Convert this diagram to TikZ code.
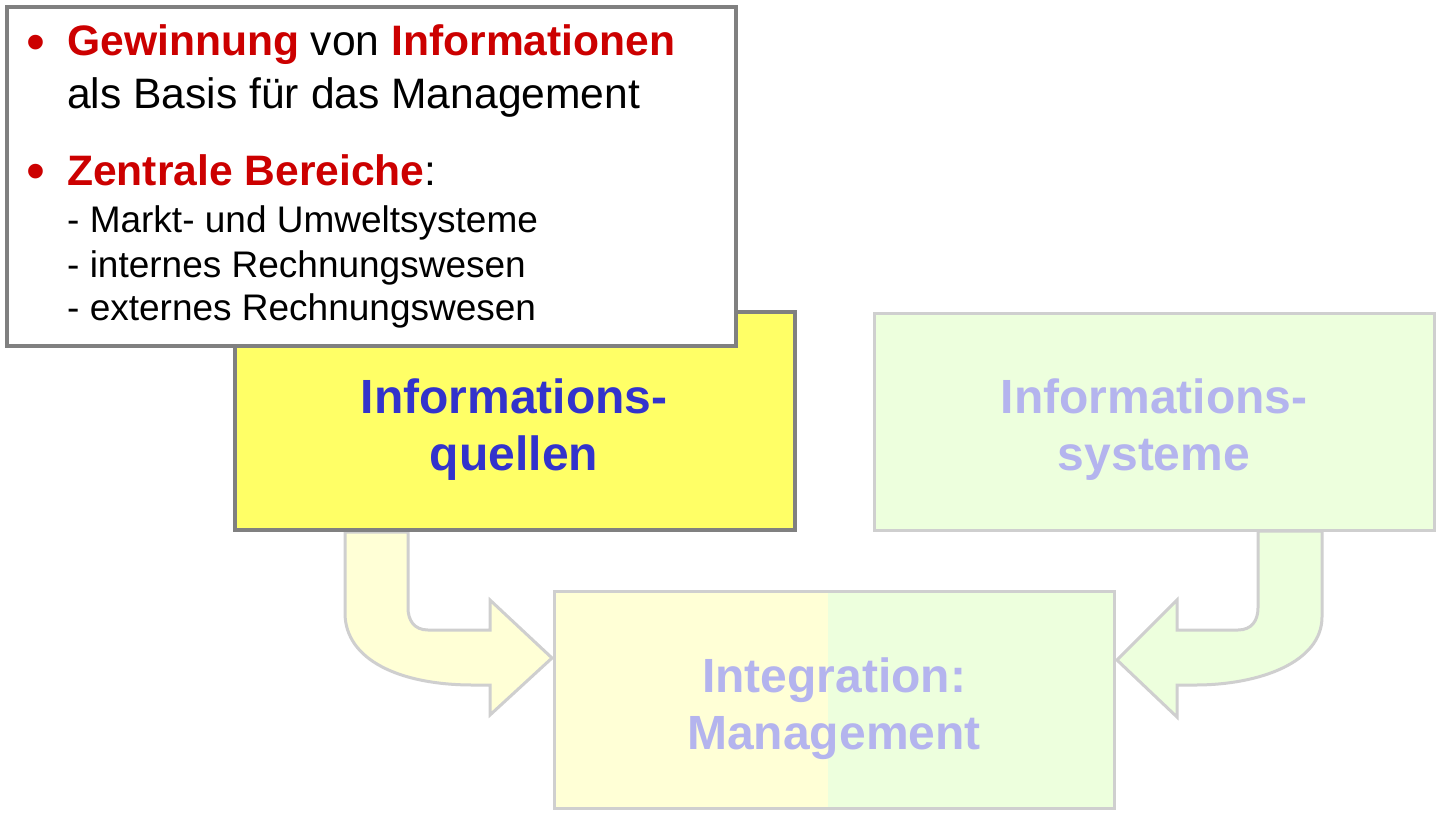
\documentclass[tikz,border=0pt]{standalone}
\usepackage{fontspec}
\setmainfont{Liberation Sans}
\definecolor{boxgray}{HTML}{808080}
\definecolor{fadegray}{HTML}{CFCFCF}
\definecolor{dred}{HTML}{CC0000}
\definecolor{iblue}{HTML}{3333CC}
\definecolor{fadeblue}{HTML}{B4B4EE}
\definecolor{qyellow}{HTML}{FFFF66}
\definecolor{fadeyellow}{HTML}{FFFFD6}
\definecolor{fadegreen}{HTML}{EDFFDD}
\begin{document}
\begin{tikzpicture}[x=1pt,y=-1pt,
  solidbox/.style={draw=boxgray, line width=4pt, inner sep=0pt},
  fadebox/.style={draw=fadegray, line width=3pt, inner sep=0pt, minimum width=560pt, minimum height=217pt},
  fadearrow/.style={draw=fadegray, line width=3pt, line join=miter},
  bigtxt/.style={font=\fontsize{48}{57}\selectfont\bfseries, align=center, inner sep=0pt},
  maintxt/.style={font=\fontsize{42.6}{50}\selectfont, anchor=base west, inner sep=0pt},
  bullettxt/.style={font=\fontsize{54}{60}\selectfont, text=dred, anchor=center, inner sep=0pt},
  subtxt/.style={font=\fontsize{37}{44}\selectfont, anchor=base west, inner sep=0pt}]
\useasboundingbox (0,0) rectangle (1444,815);
\fill[white] (0,0) rectangle (1444,815);

% faded arrows
\path[fadearrow, fill=fadeyellow] (345,532) -- (345,613)
  .. controls (345,660) and (400,685) .. (473,685) -- (490,685) -- (490,715)
  -- (552,658) -- (490,600) -- (490,630) -- (428,630)
  .. controls (414,630) and (408,620) .. (408,608) -- (408,532) -- cycle;
\path[fadearrow, fill=fadegreen] (1322,531) -- (1322,617)
  .. controls (1322,662) and (1260,685) .. (1195,685) -- (1177,685) -- (1177,717)
  -- (1117,660) -- (1177,600) -- (1177,630) -- (1238,630)
  .. controls (1252,630) and (1258,620) .. (1258,608) -- (1258,531) -- cycle;

% faded boxes
\node[fadebox, fill=fadegreen] (is) at (1154,421.5) {};
\node[bigtxt, text=fadeblue] (ist) at (1154,430) {Informations-\\systeme};
\node[fadebox, fill=fadegreen,
  path picture={\fill[fadeyellow] (path picture bounding box.north west) rectangle ([xshift=-6pt]path picture bounding box.south);}]
  (im) at (834,700) {};
\node[bigtxt, text=fadeblue] (imt) at (834,709) {Integration:\\Management};

% yellow box
\node[solidbox, fill=qyellow, minimum width=560pt, minimum height=218pt] (iq) at (515,421) {};
\node[bigtxt, text=iblue] (iqt) at (514,430) {Informations-\\quellen};

% text box
\node[solidbox, fill=white, minimum width=729pt, minimum height=339pt] (tb) at (371.5,176.5) {};
\node[bullettxt] (b1) at (35.5,48) {•};
\node[maintxt] (l1) at (67,55) {\textcolor{dred}{\bfseries Gewinnung} von \textcolor{dred}{\bfseries Informationen}};
\node[maintxt] (l2) at (67,108) {als Basis für das Management};
\node[bullettxt] (b2) at (35.5,177) {•};
\node[maintxt] (l3) at (67,185) {\textcolor{dred}{\bfseries Zentrale Bereiche}:};
\node[subtxt] (s1) at (67,232) {- Markt- und Umweltsysteme};
\node[subtxt] (s2) at (67,277) {- internes Rechnungswesen};
\node[subtxt] (s3) at (67,320) {- externes Rechnungswesen};
\end{tikzpicture}
\end{document}
